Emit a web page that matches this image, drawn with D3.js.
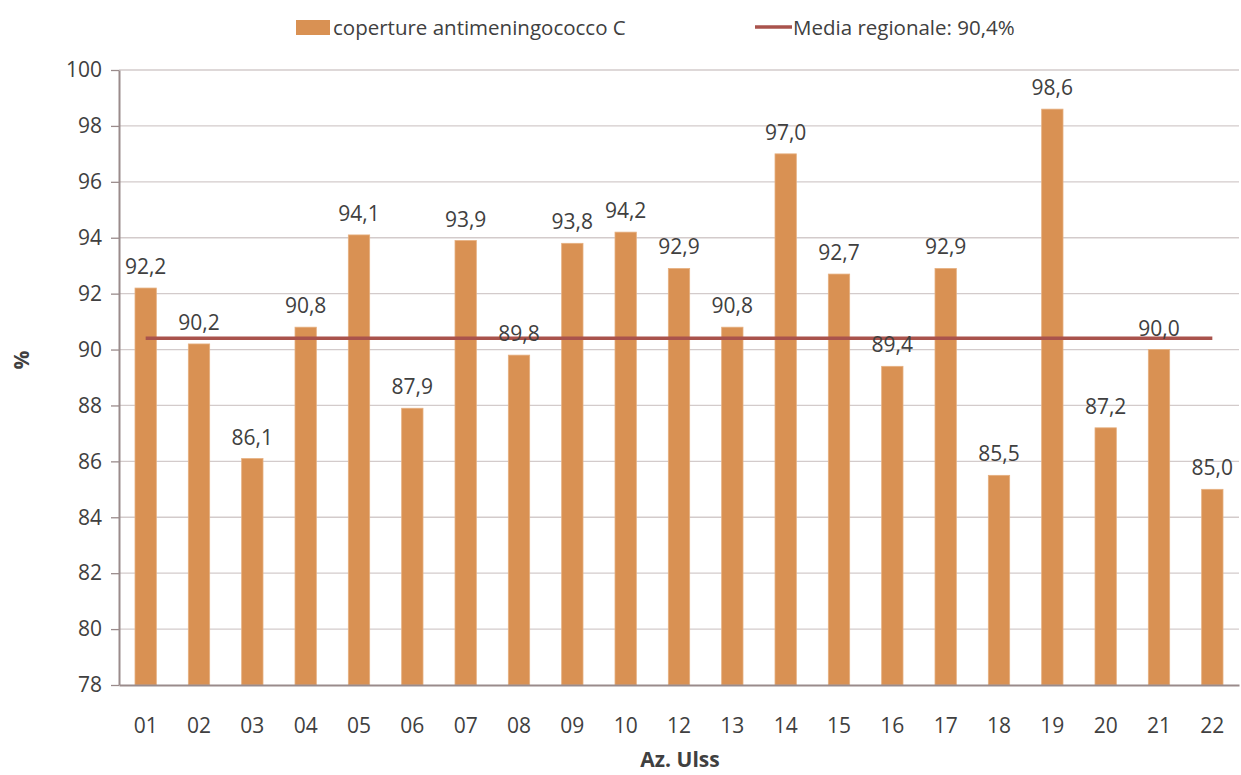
<!DOCTYPE html>
<html>
<head>
<meta charset="utf-8">
<script src="https://cdn.jsdelivr.net/npm/d3@7"></script>
<style>
  body { margin: 0; background: #fff; }
  svg text { font-family: "Open Sans", sans-serif; fill: #404040; }
</style>
</head>
<body>
<div id="chart"></div>
<script>
// data
const ulss = ['01','02','03','04','05','06','07','08','09','10','12','13','14','15','16','17','18','19','20','21','22'];
const coperture = [92.2, 90.2, 86.1, 90.8, 94.1, 87.9, 93.9, 89.8, 93.8, 94.2, 92.9, 90.8, 97.0, 92.7, 89.4, 92.9, 85.5, 98.6, 87.2, 90.0, 85.0];
const mediaRegionale = 90.4;
const yTicks = [78, 80, 82, 84, 86, 88, 90, 92, 94, 96, 98, 100];

const width = 1241, height = 775;
const margin = { top: 70, right: 2, bottom: 90, left: 119 };

const svg = d3.select('#chart').append('svg')
    .attr('width', width)
    .attr('height', height);

const x = d3.scaleBand()
    .domain(ulss)
    .range([margin.left, width - margin.right])
    .paddingInner(0.6)
    .paddingOuter(0.3);

const y = d3.scaleLinear()
    .domain([78, 100])
    .range([height - margin.bottom, margin.top]);

const fmt = v => v.toFixed(1).replace('.', ',');

// gridlines
svg.append('g')
    .selectAll('line')
    .data(yTicks.slice(1))
    .enter().append('line')
    .attr('x1', margin.left)
    .attr('x2', width - margin.right)
    .attr('y1', d => y(d))
    .attr('y2', d => y(d))
    .attr('stroke', '#d3cbcb')
    .attr('stroke-width', 1.3);

// bars
svg.append('g')
    .selectAll('rect')
    .data(coperture)
    .enter().append('rect')
    .attr('x', (d, i) => x(ulss[i]))
    .attr('y', d => y(d))
    .attr('width', x.bandwidth())
    .attr('height', d => y(78) - y(d))
    .attr('fill', '#d99153')
    .attr('stroke', '#e6b080')
    .attr('stroke-width', 0.8);

// mean line
svg.append('line')
    .attr('x1', x(ulss[0]) + x.bandwidth() / 2)
    .attr('x2', x(ulss[ulss.length - 1]) + x.bandwidth() / 2)
    .attr('y1', y(mediaRegionale))
    .attr('y2', y(mediaRegionale))
    .attr('stroke', '#a9534c')
    .attr('stroke-width', 3.5);

// value labels
svg.append('g')
    .selectAll('text')
    .data(coperture)
    .enter().append('text')
    .attr('x', (d, i) => x(ulss[i]) + x.bandwidth() / 2)
    .attr('y', d => y(d) - 14)
    .attr('text-anchor', 'middle')
    .style('font-size', '21px')
    .text(d => fmt(d));

// y axis
const yAxis = svg.append('g')
    .attr('transform', 'translate(' + margin.left + ',0)')
    .call(d3.axisLeft(y).tickValues(yTicks).tickSize(8).tickPadding(9).tickSizeOuter(0));
yAxis.select('.domain').attr('stroke', '#9a8b8b').attr('stroke-width', 2);
yAxis.selectAll('.tick line').attr('stroke', '#9a8b8b').attr('stroke-width', 1.3);
yAxis.selectAll('.tick text').style('font-size', '21px').style('font-family', '"Open Sans", sans-serif').attr('fill', '#404040');

// x axis
const xAxis = svg.append('g')
    .attr('transform', 'translate(0,' + y(78) + ')')
    .call(d3.axisBottom(x).tickSize(0).tickPadding(33).tickSizeOuter(0));
xAxis.select('.domain').attr('stroke', '#9a8b8b').attr('stroke-width', 2);
xAxis.selectAll('.tick text').style('font-size', '21px').style('font-family', '"Open Sans", sans-serif').attr('fill', '#404040');

// axis titles
svg.append('text')
    .attr('x', 680)
    .attr('y', 767)
    .attr('text-anchor', 'middle')
    .style('font-size', '21px')
    .style('font-weight', 'bold')
    .text('Az. Ulss');

svg.append('text')
    .attr('transform', 'translate(29,360) rotate(-90)')
    .attr('text-anchor', 'middle')
    .style('font-size', '21px')
    .style('font-weight', 'bold')
    .text('%');

// legend
const legend = svg.append('g');
legend.append('rect')
    .attr('x', 296).attr('y', 20)
    .attr('width', 34).attr('height', 15)
    .attr('fill', '#d99153');
legend.append('text')
    .attr('x', 333).attr('y', 35)
    .style('font-size', '20.5px')
    .text('coperture antimeningococco C');
legend.append('line')
    .attr('x1', 755).attr('x2', 792)
    .attr('y1', 27).attr('y2', 27)
    .attr('stroke', '#a9534c')
    .attr('stroke-width', 3.5);
legend.append('text')
    .attr('x', 793).attr('y', 35)
    .style('font-size', '20.5px')
    .text('Media regionale: 90,4%');
</script>
</body>
</html>
